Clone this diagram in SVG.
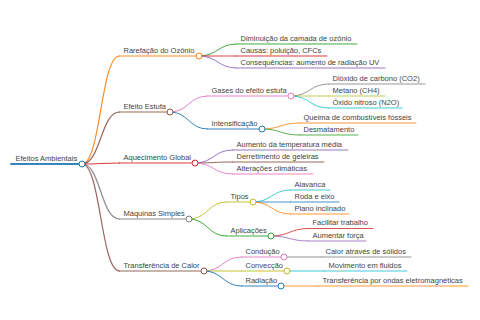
<svg xmlns="http://www.w3.org/2000/svg" width="480" height="320" viewBox="0 0 480 320">
<style>
text{font-family:"Liberation Sans",Arial,sans-serif;font-size:7.5px;fill:#444}
path,line{fill:none;stroke-linecap:round;stroke-opacity:0.9}
circle{fill:#fff;stroke-width:1}
.d0{stroke-width:1.8}.d1{stroke-width:1.2}.d2{stroke-width:1}.d3{stroke-width:0.9}
</style>
<rect width="480" height="320" fill="#fff"/>
<g id="connectors">
<path class="d1" stroke="#ff7f0e" d="M82,164 C100.75,164 100.75,56 119.5,56"/>
<path class="d1" stroke="#8c564b" d="M82,164 C100.75,164 100.75,112 119.5,112"/>
<path class="d1" stroke="#d62728" d="M82,164 C100.75,164 100.75,163 119.5,163"/>
<path class="d1" stroke="#7f7f7f" d="M82,164 C100.75,164 100.75,219 119.5,219"/>
<path class="d1" stroke="#8c564b" d="M82,164 C100.75,164 100.75,271 119.5,271"/>
<path class="d2" stroke="#2ca02c" d="M199,56 C217.75,56 217.75,44 236.5,44"/>
<path class="d2" stroke="#d62728" d="M199,56 C217.75,56 217.75,56 236.5,56"/>
<path class="d2" stroke="#9467bd" d="M199,56 C217.75,56 217.75,68 236.5,68"/>
<path class="d2" stroke="#e377c2" d="M170,112 C188.75,112 188.75,96 207.5,96"/>
<path class="d2" stroke="#1f77b4" d="M170,112 C188.75,112 188.75,129 207.5,129"/>
<path class="d3" stroke="#7f7f7f" d="M291,96 C309.75,96 309.75,84 328.5,84"/>
<path class="d3" stroke="#bcbd22" d="M291,96 C309.75,96 309.75,96 328.5,96"/>
<path class="d3" stroke="#17becf" d="M291,96 C309.75,96 309.75,108 328.5,108"/>
<path class="d3" stroke="#ff7f0e" d="M262,129 C280.75,129 280.75,123 299.5,123"/>
<path class="d3" stroke="#2ca02c" d="M262,129 C280.75,129 280.75,135 299.5,135"/>
<path class="d2" stroke="#9467bd" d="M195,163 C213.75,163 213.75,150 232.5,150"/>
<path class="d2" stroke="#8c564b" d="M195,163 C213.75,163 213.75,162 232.5,162"/>
<path class="d2" stroke="#e377c2" d="M195,163 C213.75,163 213.75,174 232.5,174"/>
<path class="d2" stroke="#bcbd22" d="M189,219 C207.75,219 207.75,202 226.5,202"/>
<path class="d2" stroke="#2ca02c" d="M189,219 C207.75,219 207.75,236 226.5,236"/>
<path class="d3" stroke="#17becf" d="M253,202 C271.75,202 271.75,190 290.5,190"/>
<path class="d3" stroke="#1f77b4" d="M253,202 C271.75,202 271.75,202 290.5,202"/>
<path class="d3" stroke="#ff7f0e" d="M253,202 C271.75,202 271.75,214 290.5,214"/>
<path class="d3" stroke="#d62728" d="M271,236 C289.75,236 289.75,228.5 308.5,228.5"/>
<path class="d3" stroke="#9467bd" d="M271,236 C289.75,236 289.75,241 308.5,241"/>
<path class="d2" stroke="#e377c2" d="M204,271 C222.75,271 222.75,257 241.5,257"/>
<path class="d2" stroke="#bcbd22" d="M204,271 C222.75,271 222.75,271 241.5,271"/>
<path class="d2" stroke="#1f77b4" d="M204,271 C222.75,271 222.75,286 241.5,286"/>
<path class="d3" stroke="#7f7f7f" d="M284,257 L321.5,257"/>
<path class="d3" stroke="#17becf" d="M287,271 L324.5,271"/>
<path class="d3" stroke="#ff7f0e" d="M281,286 L318.5,286"/>
</g>
<g id="n0"><line class="d0" stroke="#1f77b4" x1="11" y1="164" x2="82" y2="164"/><circle stroke="#1f77b4" cx="82" cy="164" r="3"/><text x="15.5" y="160.7">Efeitos Ambientais</text></g>
<g id="n1"><line class="d1" stroke="#ff7f0e" x1="119.5" y1="56" x2="199" y2="56"/><circle stroke="#ff7f0e" cx="199" cy="56" r="3"/><text x="123.5" y="52.7">Rarefação do Ozônio</text></g>
<g id="n2"><line class="d2" stroke="#2ca02c" x1="236.5" y1="44" x2="357" y2="44"/><text x="240.5" y="40.7">Diminuição da camada de ozônio</text></g>
<g id="n3"><line class="d2" stroke="#d62728" x1="236.5" y1="56" x2="327" y2="56"/><text x="240.5" y="52.7">Causas: poluição, CFCs</text></g>
<g id="n4"><line class="d2" stroke="#9467bd" x1="236.5" y1="68" x2="385" y2="68"/><text x="240.5" y="64.7">Consequências: aumento de radiação UV</text></g>
<g id="n5"><line class="d1" stroke="#8c564b" x1="119.5" y1="112" x2="170" y2="112"/><circle stroke="#8c564b" cx="170" cy="112" r="3"/><text x="123.5" y="108.7">Efeito Estufa</text></g>
<g id="n6"><line class="d2" stroke="#e377c2" x1="207.5" y1="96" x2="291" y2="96"/><circle stroke="#e377c2" cx="291" cy="96" r="3"/><text x="211.5" y="92.7">Gases do efeito estufa</text></g>
<g id="n7"><line class="d3" stroke="#7f7f7f" x1="328.5" y1="84" x2="425" y2="84"/><text x="332.5" y="80.7">Dióxido de carbono (CO2)</text></g>
<g id="n8"><line class="d3" stroke="#bcbd22" x1="328.5" y1="96" x2="385" y2="96"/><text x="332.5" y="92.7">Metano (CH4)</text></g>
<g id="n9"><line class="d3" stroke="#17becf" x1="328.5" y1="108" x2="402" y2="108"/><text x="332.5" y="104.7">Óxido nitroso (N2O)</text></g>
<g id="n10"><line class="d2" stroke="#1f77b4" x1="207.5" y1="129" x2="262" y2="129"/><circle stroke="#1f77b4" cx="262" cy="129" r="3"/><text x="211.5" y="125.7">Intensificação</text></g>
<g id="n11"><line class="d3" stroke="#ff7f0e" x1="299.5" y1="123" x2="416" y2="123"/><text x="303.5" y="119.7">Queima de combustíveis fósseis</text></g>
<g id="n12"><line class="d3" stroke="#2ca02c" x1="299.5" y1="135" x2="358" y2="135"/><text x="303.5" y="131.7">Desmatamento</text></g>
<g id="n13"><line class="d1" stroke="#d62728" x1="119.5" y1="163" x2="195" y2="163"/><circle stroke="#d62728" cx="195" cy="163" r="3"/><text x="123.5" y="159.7">Aquecimento Global</text></g>
<g id="n14"><line class="d2" stroke="#9467bd" x1="232.5" y1="150" x2="348" y2="150"/><text x="236.5" y="146.7">Aumento da temperatura média</text></g>
<g id="n15"><line class="d2" stroke="#8c564b" x1="232.5" y1="162" x2="324" y2="162"/><text x="236.5" y="158.7">Derretimento de geleiras</text></g>
<g id="n16"><line class="d2" stroke="#e377c2" x1="232.5" y1="174" x2="313" y2="174"/><text x="236.5" y="170.7">Alterações climáticas</text></g>
<g id="n17"><line class="d1" stroke="#7f7f7f" x1="119.5" y1="219" x2="189" y2="219"/><circle stroke="#7f7f7f" cx="189" cy="219" r="3"/><text x="123.5" y="215.7">Máquinas Simples</text></g>
<g id="n18"><line class="d2" stroke="#bcbd22" x1="226.5" y1="202" x2="253" y2="202"/><circle stroke="#bcbd22" cx="253" cy="202" r="3"/><text x="230.5" y="198.7">Tipos</text></g>
<g id="n19"><line class="d3" stroke="#17becf" x1="290.5" y1="190" x2="330" y2="190"/><text x="294.5" y="186.7">Alavanca</text></g>
<g id="n20"><line class="d3" stroke="#1f77b4" x1="290.5" y1="202" x2="339" y2="202"/><text x="294.5" y="198.7">Roda e eixo</text></g>
<g id="n21"><line class="d3" stroke="#ff7f0e" x1="290.5" y1="214" x2="349" y2="214"/><text x="294.5" y="210.7">Plano inclinado</text></g>
<g id="n22"><line class="d2" stroke="#2ca02c" x1="226.5" y1="236" x2="271" y2="236"/><circle stroke="#2ca02c" cx="271" cy="236" r="3"/><text x="230.5" y="232.7">Aplicações</text></g>
<g id="n23"><line class="d3" stroke="#d62728" x1="308.5" y1="228.5" x2="373" y2="228.5"/><text x="312.5" y="225.2">Facilitar trabalho</text></g>
<g id="n24"><line class="d3" stroke="#9467bd" x1="308.5" y1="241" x2="366" y2="241"/><text x="312.5" y="237.7">Aumentar força</text></g>
<g id="n25"><line class="d1" stroke="#8c564b" x1="119.5" y1="271" x2="204" y2="271"/><circle stroke="#8c564b" cx="204" cy="271" r="3"/><text x="123.5" y="267.7">Transferência de Calor</text></g>
<g id="n26"><line class="d2" stroke="#e377c2" x1="241.5" y1="257" x2="284" y2="257"/><circle stroke="#e377c2" cx="284" cy="257" r="3"/><text x="245.5" y="253.7">Condução</text></g>
<g id="n27"><line class="d3" stroke="#7f7f7f" x1="321.5" y1="257" x2="411" y2="257"/><text x="325.5" y="253.7">Calor através de sólidos</text></g>
<g id="n28"><line class="d2" stroke="#bcbd22" x1="241.5" y1="271" x2="287" y2="271"/><circle stroke="#bcbd22" cx="287" cy="271" r="3"/><text x="245.5" y="267.7">Convecção</text></g>
<g id="n29"><line class="d3" stroke="#17becf" x1="324.5" y1="271" x2="407" y2="271"/><text x="328.5" y="267.7">Movimento em fluidos</text></g>
<g id="n30"><line class="d2" stroke="#1f77b4" x1="241.5" y1="286" x2="281" y2="286"/><circle stroke="#1f77b4" cx="281" cy="286" r="3"/><text x="245.5" y="282.7">Radiação</text></g>
<g id="n31"><line class="d3" stroke="#ff7f0e" x1="318.5" y1="286" x2="468" y2="286"/><text x="322.5" y="282.7">Transferência por ondas eletromagnéticas</text></g>
</svg>
